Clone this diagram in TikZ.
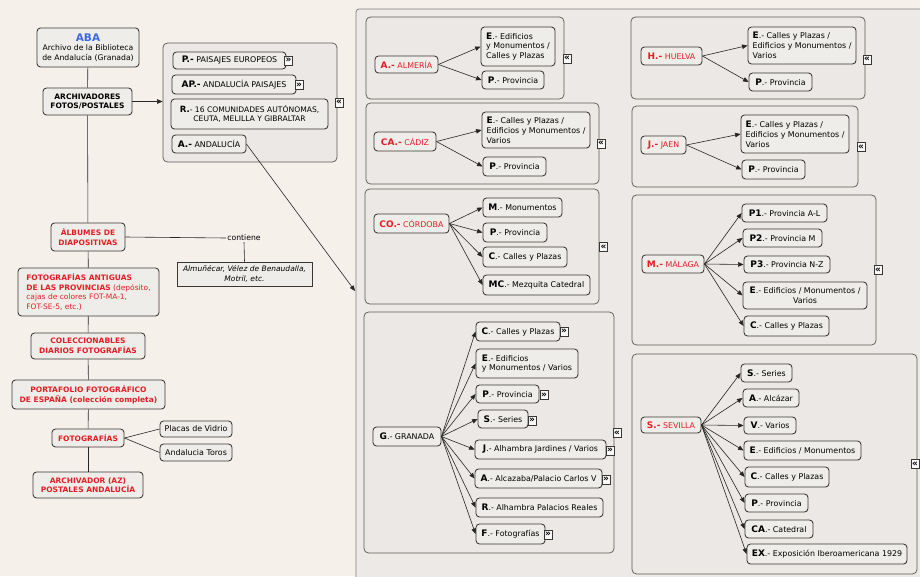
\documentclass[tikz,border=0pt]{standalone}
\usepackage{fontspec}
\setmainfont{DejaVu Sans}
\usetikzlibrary{arrows.meta}
\definecolor{bgc}{RGB}{246,240,235}
\definecolor{panelc}{RGB}{236,233,230}
\definecolor{grpc}{RGB}{235,232,229}
\definecolor{boxc}{RGB}{239,237,234}
\definecolor{redc}{RGB}{226,30,38}
\definecolor{bluec}{RGB}{62,104,222}
\definecolor{edgec}{RGB}{58,54,50}
\definecolor{grpedge}{RGB}{95,91,87}
\newcommand\pf[1]{{\fontsize{9}{9.8}\selectfont\bfseries #1}}
\newcommand\nb[8][]{\node[#2,minimum width={(#5-#3)*1pt},minimum height={(#6-#4)*1pt},#1] (#7) at ({(#3+#5)/2},{(#4+#6)/2}) {#8};}
\tikzset{
 box/.style={draw=edgec, line width=0.85pt, fill=boxc, rounded corners=3.5pt, inner sep=2pt, align=left, font=\fontsize{7.9}{9.8}\selectfont},
 rbox/.style={box, text=redc},
 lbox/.style={box, text=redc, align=center, font=\fontsize{7.5}{9.6}\selectfont\bfseries},
 grp/.style={draw=grpedge, line width=0.75pt, fill=grpc, rounded corners=4.5pt, inner sep=0pt},
 icon/.style={draw=edgec, line width=0.6pt, fill=white!75!boxc, inner sep=0pt, minimum width=8pt, minimum height=9pt, font=\fontsize{9}{9}\selectfont\bfseries},
 con/.style={draw=black!85, line width=0.6pt},
 arr/.style={con, -{Triangle[length=5.5pt,width=4.5pt]}},
}
\begin{document}
\begin{tikzpicture}[x=1pt,y=-1pt]
\fill[bgc] (0,0) rectangle (920,576);
\useasboundingbox (0,0) rectangle (920,576);
\clip (0,0) rectangle (920,576);
% ---------- left column ----------
\nb[align=center,font=\fontsize{7.7}{9.8}\selectfont]{box}{37}{28}{139}{67}{aba}{{\fontsize{10.5}{12}\selectfont\bfseries\textcolor{bluec}{ABA}}\\Archivo de la Biblioteca\\de Andalucía (Granada)}
\nb[align=center,font=\fontsize{7.5}{9.6}\selectfont\bfseries]{box}{43}{88}{132}{115}{arch}{ARCHIVADORES\\FOTOS/POSTALES}
\nb{grp}{163}{43}{337}{162}{gpa}{}
\nb{box}{173}{52}{286}{69}{pe}{\pf{P.-} PAISAJES EUROPEOS}
\nb{box}{172}{75}{296}{94}{ap}{\pf{AP.-} ANDALUCÍA PAISAJES}
\nb[align=center,font=\fontsize{7.6}{9.8}\selectfont]{box}{171}{99}{328}{129}{rc}{{\fontsize{8.6}{9.8}\selectfont\bfseries R.}- 16 COMUNIDADES AUTÓNOMAS,\\CEUTA, MELILLA Y GIBRALTAR}
\nb{box}{172}{135}{246}{153}{aand}{\pf{A.-} ANDALUCÍA}
\nb{lbox}{51}{223}{125}{251}{alb}{ÁLBUMES DE\\DIAPOSITIVAS}
\node[font=\fontsize{7.7}{9}\selectfont, inner sep=1pt] (cont) at (244,238) {contiene};
\nb[align=center,rounded corners=0pt,line width=0.6pt,font=\fontsize{7.5}{9.6}\selectfont\itshape]{box}{177}{262}{312}{286}{ital}{Almuñécar, Vélez de Benaudalla,\\Motril, etc.}
\nb[align=left,font=\fontsize{7.5}{9.6}\selectfont]{rbox}{18}{268}{159}{316}{fa}{\textbf{FOTOGRAFÍAS ANTIGUAS}\\\textbf{DE LAS PROVINCIAS} (depósito,\\cajas de colores FOT-MA-1,\\FOT-SE-5, etc.)}
\nb{lbox}{31}{333}{145}{359}{col}{COLECCIONABLES\\DIARIOS FOTOGRAFÍAS}
\nb{lbox}{12}{380}{165}{409}{port}{PORTAFOLIO FOTOGRÁFICO\\DE ESPAÑA (colección completa)}
\nb{lbox}{52}{429}{124}{447}{foto}{FOTOGRAFÍAS}
\nb{box}{160}{421}{232}{437}{placas}{Placas de Vidrio}
\nb{box}{160}{444}{232}{461}{toros}{Andalucia Toros}
\nb{lbox}{33}{472}{143}{498}{az}{ARCHIVADOR (AZ)\\POSTALES ANDALUCÍA}
% left connectors
\draw[con] (aba) -- (arch);
\draw[con] (arch) -- (alb);
\draw[con] (alb) -- (fa);
\draw[con] (fa) -- (col);
\draw[con] (col) -- (port);
\draw[con] (port) -- (foto);
\draw[con] (foto) -- (az);
\draw[arr] (arch.east) -- (arch.east -| gpa.west);
\draw[con] (alb.east) -- (cont.west);
\draw[con] (cont.south) -- (ital.north);
\draw[con] (foto.east) -- (placas.west);
\draw[con] (foto.east) -- (toros.west);
% ---------- right panel ----------
\nb[fill=panelc,rounded corners=3pt,draw=grpedge!80]{grp}{356}{9}{940}{600}{panel}{}
\coordinate (pin) at (355,291);
\draw[arr] (aand.east) -- (pin);
% Almeria
\nb{grp}{366}{17}{564}{99}{galm}{}
\nb{rbox}{375}{56}{438}{73}{alm}{\pf{A.-} ALMERÍA}
\nb{box}{481}{27}{555}{66}{alme}{\pf{E}.- Edificios\\y Monumentos /\\Calles y Plazas}
\nb{box}{482}{71}{544}{89}{almp}{\pf{P}.- Provincia}
% Cadiz
\nb{grp}{366}{103}{599}{184}{gcad}{}
\nb{rbox}{374}{132}{436}{151}{cad}{\pf{CA.-} CÁDIZ}
\nb{box}{482}{112}{590}{148}{cade}{\pf{E}.- Calles y Plazas /\\Edificios y Monumentos /\\Varios}
\nb{box}{483}{157}{546}{176}{cadp}{\pf{P}.- Provincia}
% Cordoba
\nb{grp}{365}{189}{599}{304}{gcor}{}
\nb{rbox}{374}{214}{449}{233}{cor}{\pf{CO.-} CÓRDOBA}
\nb{box}{483}{198}{562}{217}{corm}{\pf{M}.- Monumentos}
\nb{box}{483}{223}{547}{242}{corp}{\pf{P}.- Provincia}
\nb{box}{483}{247}{567}{267}{corc}{\pf{C}.- Calles y Plazas}
\nb{box}{483}{275}{590}{295}{cormc}{\pf{MC}.- Mezquita Catedral}
% Granada
\nb{grp}{364}{312}{614}{553}{ggra}{}
\nb{box}{373}{427}{441}{446}{gra}{\pf{G}.- GRANADA}
\nb{box}{476}{322}{560}{341}{grac}{\pf{C}.- Calles y Plazas}
\nb{box}{476}{349}{578}{378}{grae}{\pf{E}.- Edificios\\y Monumentos / Varios}
\nb{box}{476}{385}{539}{403}{grap}{\pf{P}.- Provincia}
\nb{box}{478}{410}{528}{428}{gras}{\pf{S}.- Series}
\nb{box}{475}{440}{606}{459}{graj}{\pf{J}.- Alhambra Jardines / Varios}
\nb{box}{475}{469}{602}{488}{graa}{\pf{A}.- Alcazaba/Palacio Carlos V}
\nb{box}{476}{498}{603}{517}{grar}{\pf{R}.- Alhambra Palacios Reales}
\nb{box}{476}{524}{545}{544}{graf}{\pf{F}.- Fotografías}
% Huelva
\nb{grp}{631}{17}{865}{99}{ghue}{}
\nb{rbox}{641}{47}{702}{65}{hue}{\pf{H.-} HUELVA}
\nb{box}{748}{27}{856}{64}{huee}{\pf{E}.- Calles y Plazas /\\Edificios y Monumentos /\\Varios}
\nb{box}{749}{73}{812}{91}{huep}{\pf{P}.- Provincia}
% Jaen
\nb{grp}{632}{106}{858}{187}{gjae}{}
\nb{rbox}{641}{136}{686}{154}{jae}{\pf{J.-} JAEN}
\nb{box}{741}{115}{849}{153}{jaee}{\pf{E}.- Calles y Plazas /\\Edificios y Monumentos /\\Varios}
\nb{box}{742}{160}{805}{179}{jaep}{\pf{P}.- Provincia}
% Malaga
\nb{grp}{632}{195}{876}{345}{gmal}{}
\nb{rbox}{642}{255}{704}{273}{mal}{\pf{M.-} MÁLAGA}
\nb{box}{742}{204}{827}{222}{malp1}{\pf{P1}.- Provincia A-L}
\nb{box}{743}{229}{822}{247}{malp2}{\pf{P2}.- Provincia M}
\nb{box}{744}{256}{830}{273}{malp3}{\pf{P3}.- Provincia N-Z}
\nb[align=center]{box}{743}{282}{867}{309}{male}{\pf{E}.- Edificios / Monumentos /\\Varios}
\nb{box}{744}{316}{829}{336}{malc}{\pf{C}.- Calles y Plazas}
% Sevilla
\nb{grp}{632}{354}{917}{574}{gsev}{}
\nb{rbox}{641}{417}{701}{433}{sev}{\pf{S.-} SEVILLA}
\nb{box}{741}{364}{792}{382}{sevs}{\pf{S}.- Series}
\nb{box}{743}{389}{799}{407}{seva}{\pf{A}.- Alcázar}
\nb{box}{744}{417}{796}{434}{sevv}{\pf{V}.- Varios}
\nb{box}{744}{441}{861}{460}{seve}{\pf{E}.- Edificios / Monumentos}
\nb{box}{745}{467}{829}{487}{sevc}{\pf{C}.- Calles y Plazas}
\nb{box}{745}{494}{808}{512}{sevp}{\pf{P}.- Provincia}
\nb{box}{745}{520}{813}{538}{sevca}{\pf{CA}.- Catedral}
\nb{box}{747}{544}{907}{564}{sevex}{\pf{EX}.- Exposición Iberoamericana 1929}
% panel connectors
\foreach \c in {alme,almp} \draw[arr] (alm.east) -- (\c.west);
\foreach \c in {cade,cadp} \draw[arr] (cad.east) -- (\c.west);
\foreach \c in {corm,corp,corc,cormc} \draw[arr] (cor.east) -- (\c.west);
\foreach \c in {grac,grae,grap,gras,graj,graa,grar,graf} \draw[arr] (gra.east) -- (\c.west);
\foreach \c in {huee,huep} \draw[arr] (hue.east) -- (\c.west);
\foreach \c in {jaee,jaep} \draw[arr] (jae.east) -- (\c.west);
\foreach \c in {malp1,malp2,malp3,male,malc} \draw[arr] (mal.east) -- (\c.west);
\foreach \c in {sevs,seva,sevv,seve,sevc,sevp,sevca,sevex} \draw[arr] (sev.east) -- (\c.west);
% icons
\node[icon] (i1) at (288.5,60.5) {»};
\node[icon] (i2) at (299,85) {»};
\node[icon] (i3) at (339,102.5) {«};
\node[icon] (i4) at (567,58.5) {«};
\node[icon] (i5) at (601,143.5) {«};
\node[icon] (i6) at (603.5,247) {«};
\node[icon] (i7) at (564,331.5) {»};
\node[icon] (i8) at (544,395) {»};
\node[icon] (i9) at (532,420.5) {»};
\node[icon] (i10) at (610,450.5) {»};
\node[icon] (i11) at (606,479.5) {»};
\node[icon] (i12) at (548,534.5) {»};
\node[icon] (i13) at (617,433) {«};
\node[icon] (i14) at (867,59.5) {«};
\node[icon] (i15) at (861,147) {«};
\node[icon] (i16) at (878,270) {«};
\node[icon] (i17) at (915,464) {«};
\end{tikzpicture}
\end{document}
